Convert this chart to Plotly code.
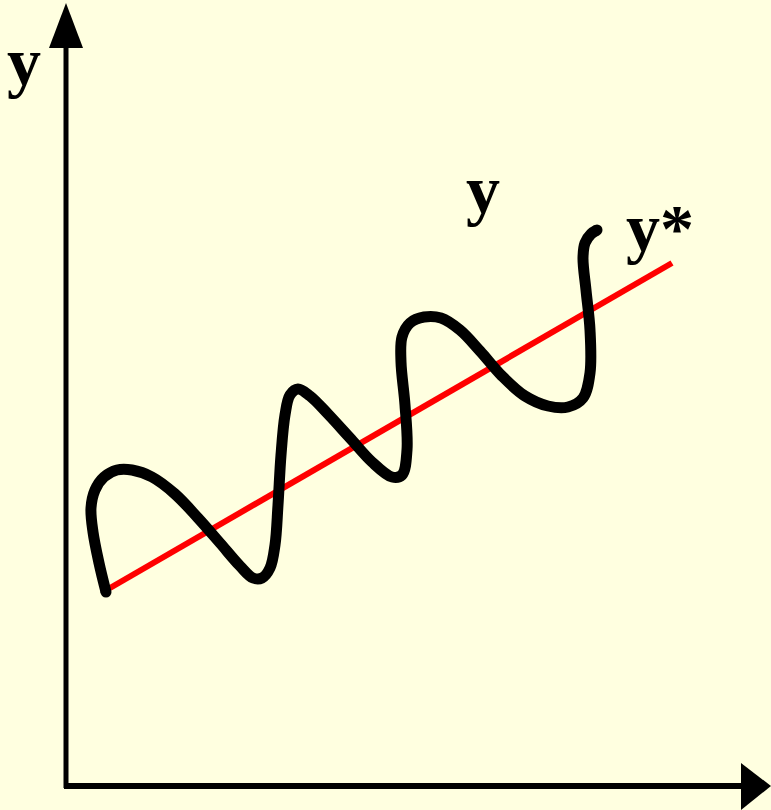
import plotly.graph_objects as go

curve_x = [106, 99, 93, 91, 95, 104, 117, 132, 152, 175, 198, 220, 240, 253, 262, 270, 275, 278, 281, 285, 290, 298,
           310, 328, 350, 372, 392, 402, 407, 405, 401, 402, 410, 424, 441, 460, 480, 502, 525, 548, 568, 583, 590,
           590, 586, 583, 585, 591, 597]
curve_y = [592, 563, 532, 508, 490, 477, 470, 470, 477, 494, 518, 543, 566, 578, 578, 568, 545, 505, 455, 415, 395, 389,
           396, 414, 438, 462, 477, 475, 450, 405, 362, 337, 323, 317, 318, 330, 351, 376, 396, 406, 407, 398, 373,
           330, 290, 258, 243, 234, 230]

# straight trend y*
trend_x = [110, 672]
trend_y = [588, 263]

# labels
label_text = ["y", "y", "y*"]
label_x = [24, 483, 660]
label_y = [62, 190, 228]

W, H = 771, 810
BG = "#FFFFE0"
AXIS_X0, AXIS_Y0 = 66, 786

fig = go.Figure()

fig.add_trace(go.Scatter(
    x=trend_x, y=trend_y, mode="lines",
    line=dict(color="#FF0000", width=6), hoverinfo="skip"
))
fig.add_trace(go.Scatter(
    x=curve_x, y=curve_y, mode="lines",
    line=dict(color="#000000", width=11, shape="spline", smoothing=1.0), hoverinfo="skip"
))
# round caps at the curve ends
fig.add_trace(go.Scatter(
    x=[curve_x[0], curve_x[-1]], y=[curve_y[0], curve_y[-1]], mode="markers",
    marker=dict(color="#000000", size=11, line=dict(width=0)), hoverinfo="skip"
))

shapes = [
    # vertical axis
    dict(type="line", x0=AXIS_X0, y0=AXIS_Y0 + 2, x1=AXIS_X0, y1=44,
         line=dict(color="#000000", width=5)),
    dict(type="path", path=f"M {AXIS_X0 - 17},48 L {AXIS_X0},3 L {AXIS_X0 + 17},48 Z",
         fillcolor="#000000", line=dict(width=0)),
    # horizontal axis
    dict(type="line", x0=AXIS_X0 - 2, y0=AXIS_Y0, x1=745, y1=AXIS_Y0,
         line=dict(color="#000000", width=6)),
    dict(type="path", path=f"M 741,{AXIS_Y0 - 23} L 771,{AXIS_Y0} L 741,{AXIS_Y0 + 24} Z",
         fillcolor="#000000", line=dict(width=0)),
]
for s in shapes:
    s.update(xref="x", yref="y", layer="above")

annotations = [
    dict(x=lx, y=ly, text=f"<b>{t}</b>", showarrow=False, xref="x", yref="y",
         font=dict(family="Liberation Serif, Times New Roman, serif", size=68, color="#000000"))
    for t, lx, ly in zip(label_text, label_x, label_y)
]

fig.update_layout(
    width=W, height=H,
    paper_bgcolor=BG, plot_bgcolor=BG,
    margin=dict(l=0, r=0, t=0, b=0),
    xaxis=dict(range=[0, W], visible=False, fixedrange=True),
    yaxis=dict(range=[H, 0], visible=False, fixedrange=True),
    showlegend=False,
    shapes=shapes,
    annotations=annotations,
)

fig.write_html(
    "out.html",
    config={"displayModeBar": False},
    post_script="document.body.style.margin='0';document.body.style.background='#FFFFE0';",
)
